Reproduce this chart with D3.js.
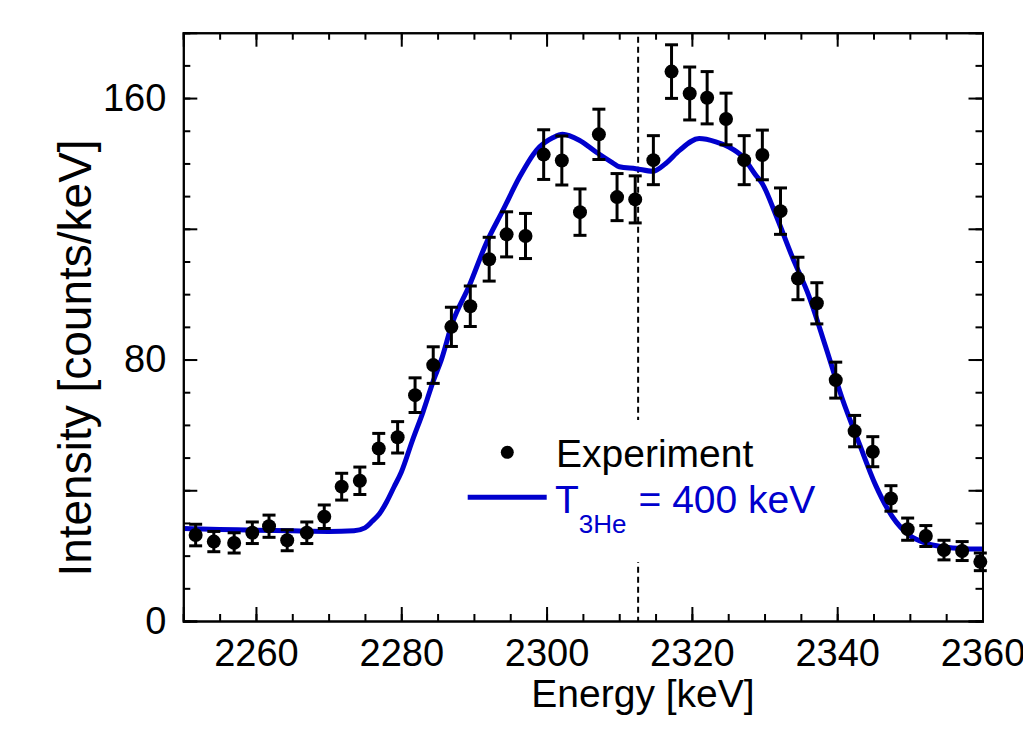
<!DOCTYPE html>
<html>
<head>
<meta charset="utf-8">
<style>
  body { margin: 0; background: white; }
  svg { font-family: 'Liberation Sans', Arial, sans-serif; }
  .frame line, .frame path { stroke: black; stroke-width: 2px; }
  .frame text { font-size: 38px; fill: black; }
</style>
</head>
<body>
<div id="chart"></div>
<script src="https://d3js.org/d3.v7.min.js"></script>
<script>

// measured spectrum
var energy = [2251.7, 2254.2, 2257.0, 2259.5, 2261.8, 2264.3, 2267.0, 2269.4, 2271.8, 2274.3,
              2276.9, 2279.5, 2281.9, 2284.4, 2286.9, 2289.5, 2292.1, 2294.5, 2297.1, 2299.6,
              2302.1, 2304.6, 2307.2, 2309.7, 2312.2, 2314.7, 2317.2, 2319.7, 2322.1, 2324.7,
              2327.2, 2329.7, 2332.2, 2334.6, 2337.2, 2339.8, 2342.4, 2344.9, 2347.4, 2349.7,
              2352.2, 2354.7, 2357.2, 2359.7];
var counts = [26.3, 24.3, 23.9, 27.0, 29.0, 24.7, 27.0, 31.9, 41.1, 42.9,
              52.8, 56.2, 69.1, 78.3, 90.0, 96.3, 110.7, 118.3, 117.8, 142.7,
              140.9, 125.1, 148.9, 129.7, 129.0, 141.0, 168.1, 161.4, 160.1, 153.6,
              141.0, 142.6, 125.4, 104.8, 97.2, 73.7, 58.1, 51.8, 37.5, 28.1,
              26.0, 21.7, 21.4, 18.1];
var errors = [3.3, 3.1, 3.1, 3.3, 3.4, 3.2, 3.3, 3.6, 4.1, 4.2,
              4.6, 4.8, 5.3, 5.6, 6.0, 6.2, 6.7, 6.9, 6.9, 7.6,
              7.5, 7.1, 7.7, 7.2, 7.2, 7.5, 8.2, 8.1, 8.0, 7.9,
              7.5, 7.6, 7.1, 6.5, 6.3, 5.5, 4.8, 4.6, 3.9, 3.4,
              3.2, 3.0, 2.9, 2.7];

// simulated line shape, T(3He) = 400 keV
var fitEnergy = [2250, 2255, 2260, 2265, 2270, 2273.5, 2275, 2276, 2277, 2278,
                 2279, 2280, 2281.5, 2283, 2284.5, 2285.5, 2287, 2289.4, 2291.7, 2294,
                 2296.3, 2298.6, 2300.9, 2302.2, 2304.5, 2306.8, 2309.1, 2310, 2312.3, 2314.6,
                 2316.4, 2318.3, 2321, 2323.3, 2325.1, 2327, 2328.8, 2329.7, 2331.6, 2333.8,
                 2336.1, 2338.4, 2340.7, 2343, 2345.3, 2347.6, 2349.9, 2352.2, 2354.4, 2357, 2360];
var fitCounts = [28.3, 28.0, 27.8, 27.6, 27.4, 27.6, 28.5, 30.5, 32.8, 36.5,
                 41.0, 45.5, 55.0, 64.0, 74.0, 79.8, 91.0, 102.8, 115.6, 125.7,
                 135.9, 144.0, 147.9, 148.9, 147.1, 143.5, 140.2, 139.0, 138.4, 137.6,
                 140.0, 144.0, 147.6, 146.6, 145.0, 142.0, 136.4, 133.8, 124.0, 111.5,
                 99.5, 84.0, 68.0, 54.5, 41.5, 31.9, 26.3, 23.8, 22.7, 22.2, 22.0];

var markerEnergy = [2312.6];

var xLabelTicks = [2260, 2280, 2300, 2320, 2340, 2360];
var xMinorTicks = d3.range(2250, 2361, 5);
var yMajorTicks = [0, 40, 80, 120, 160];
var yLabelTicks = [0, 80, 160];
var yMinorTicks = d3.range(0, 181, 10);

var margin = {top: 32.7, right: 40.5, bottom: 116, left: 183.3},
    width = 1023 - margin.left - margin.right,
    height = 737 - margin.top - margin.bottom;

var svg = d3.select("#chart").append("svg")
    .attr("width", 1023)
    .attr("height", 737);

var g = svg.append("g")
    .attr("transform", "translate(" + margin.left + "," + margin.top + ")");

var x = d3.scaleLinear().domain([2250, 2360]).range([0, width]);
var y = d3.scaleLinear().domain([0, 180]).range([height, 0]);

// dashed marker line
g.selectAll(".marker")
  .data(markerEnergy)
  .enter().append("line")
    .attr("x1", function(d) { return x(d); })
    .attr("x2", function(d) { return x(d); })
    .attr("y1", 4)
    .attr("y2", height)
    .attr("stroke", "black")
    .attr("stroke-width", 2)
    .attr("stroke-dasharray", "6,4");

// fit curve
var fit = fitEnergy.map(function(e, i) { return [e, fitCounts[i]]; });
g.append("path")
  .datum(fit)
  .attr("fill", "none")
  .attr("stroke", "#0000cd")
  .attr("stroke-width", 5)
  .attr("stroke-linejoin", "round")
  .attr("d", d3.line()
    .curve(d3.curveMonotoneX)
    .x(function(d) { return x(d[0]); })
    .y(function(d) { return y(d[1]); }));

// data with error bars
var pts = energy.map(function(e, i) { return {e: e, c: counts[i], s: errors[i]}; });
var pt = g.selectAll(".pt").data(pts).enter().append("g")
    .attr("stroke", "black").attr("stroke-width", 3);
pt.append("line")
    .attr("x1", function(d) { return x(d.e); })
    .attr("x2", function(d) { return x(d.e); })
    .attr("y1", function(d) { return y(d.c - d.s); })
    .attr("y2", function(d) { return y(d.c + d.s); });
pt.append("line")
    .attr("x1", function(d) { return x(d.e) - 6.5; })
    .attr("x2", function(d) { return x(d.e) + 6.5; })
    .attr("y1", function(d) { return y(d.c + d.s); })
    .attr("y2", function(d) { return y(d.c + d.s); });
pt.append("line")
    .attr("x1", function(d) { return x(d.e) - 6.5; })
    .attr("x2", function(d) { return x(d.e) + 6.5; })
    .attr("y1", function(d) { return y(d.c - d.s); })
    .attr("y2", function(d) { return y(d.c - d.s); });
pt.append("circle")
    .attr("cx", function(d) { return x(d.e); })
    .attr("cy", function(d) { return y(d.c); })
    .attr("r", 7)
    .attr("stroke", "none")
    .attr("fill", "black");

// axes, all ticks point inward
function noLabel() { return ""; }
g.append("g").attr("class", "frame")
  .attr("transform", "translate(0," + height + ")")
  .call(d3.axisBottom(x).tickValues(xMinorTicks).tickSize(-7).tickFormat(noLabel));
g.append("g").attr("class", "frame")
  .attr("transform", "translate(0," + height + ")")
  .call(d3.axisBottom(x).tickValues(xLabelTicks).tickSize(-14).tickPadding(18).tickFormat(d3.format("d")));
g.append("g").attr("class", "frame")
  .call(d3.axisTop(x).tickValues(xMinorTicks).tickSize(-7).tickFormat(noLabel));
g.append("g").attr("class", "frame")
  .call(d3.axisTop(x).tickValues(xLabelTicks).tickSize(-14).tickFormat(noLabel));

g.append("g").attr("class", "frame")
  .call(d3.axisLeft(y).tickValues(yMinorTicks).tickSize(-7).tickFormat(noLabel));
g.append("g").attr("class", "frame")
  .call(d3.axisLeft(y).tickValues(yMajorTicks).tickSize(-14).tickPadding(17)
    .tickFormat(function(d) { return yLabelTicks.indexOf(d) >= 0 ? d : ""; }));
g.append("g").attr("class", "frame")
  .attr("transform", "translate(" + width + ",0)")
  .call(d3.axisRight(y).tickValues(yMinorTicks).tickSize(-7).tickFormat(noLabel));
g.append("g").attr("class", "frame")
  .attr("transform", "translate(" + width + ",0)")
  .call(d3.axisRight(y).tickValues(yMajorTicks).tickSize(-14).tickFormat(noLabel));

// axis titles
svg.append("text")
  .attr("x", 643).attr("y", 707)
  .attr("text-anchor", "middle")
  .style("font-size", "39px")
  .text("Energy [keV]");
svg.append("text")
  .attr("transform", "translate(91,358) rotate(-90)")
  .attr("text-anchor", "middle")
  .style("font-size", "46px")
  .text("Intensity [counts/keV]");

// legend
var leg = svg.append("g");
leg.append("rect")
  .attr("x", 462).attr("y", 420).attr("width", 370).attr("height", 142)
  .attr("fill", "white");
leg.append("circle")
  .attr("cx", 507.3).attr("cy", 452.3).attr("r", 6.5).attr("fill", "black");
leg.append("text")
  .attr("x", 556).attr("y", 466.7)
  .style("font-size", "39px")
  .text("Experiment");
leg.append("line")
  .attr("x1", 467.7).attr("x2", 546.7).attr("y1", 497.3).attr("y2", 497.3)
  .attr("stroke", "#0000cd").attr("stroke-width", 5);
var lt = leg.append("text")
  .attr("x", 555).attr("y", 513.3)
  .style("font-size", "39px")
  .attr("fill", "#0000cd");
lt.append("tspan").text("T");
lt.append("tspan").attr("dy", 20).style("font-size", "26px").text("3He");
lt.append("tspan").attr("dy", -20).attr("dx", 12).text("= 400 keV");

</script>
</body>
</html>
